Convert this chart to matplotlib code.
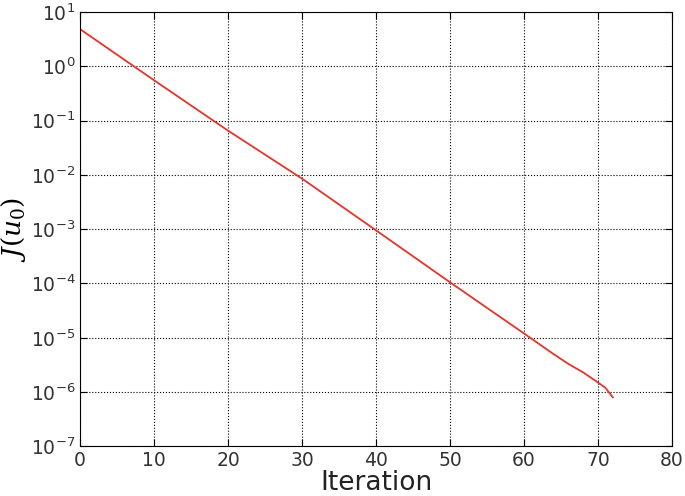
import matplotlib.pyplot as plt

iters = [0, 10, 20, 30, 40, 50, 60, 64, 66, 68, 70, 71, 72]
cost = [4.8, 0.55, 0.065, 0.0085, 0.00095, 1.05e-4, 1.2e-5, 5.0e-6,
        3.3e-6, 2.3e-6, 1.5e-6, 1.2e-6, 8.0e-7]

plt.rcParams['mathtext.fontset'] = 'dejavuserif'
fig = plt.figure(figsize=(6.85, 4.96), dpi=100)
ax = fig.add_axes([0.117, 0.1, 0.864, 0.876])
ax.semilogy(iters, cost, color='#e8332a', lw=1.3)

ax.set_xlim(0, 80)
ax.set_ylim(1e-7, 1e1)
ax.set_xticks(range(0, 81, 10))
ax.grid(True, which='major', color='k', linestyle=':', linewidth=0.8)
ax.minorticks_off()
ax.tick_params(direction='in', labelsize=13.5, labelcolor='#333333',
               top=True, right=True, length=5)
ax.set_xlabel('Iteration', fontsize=19, labelpad=0, color='#222222')
ax.set_ylabel(r'$J(u_0)$', fontsize=19, labelpad=2)

plt.savefig('out.png')
